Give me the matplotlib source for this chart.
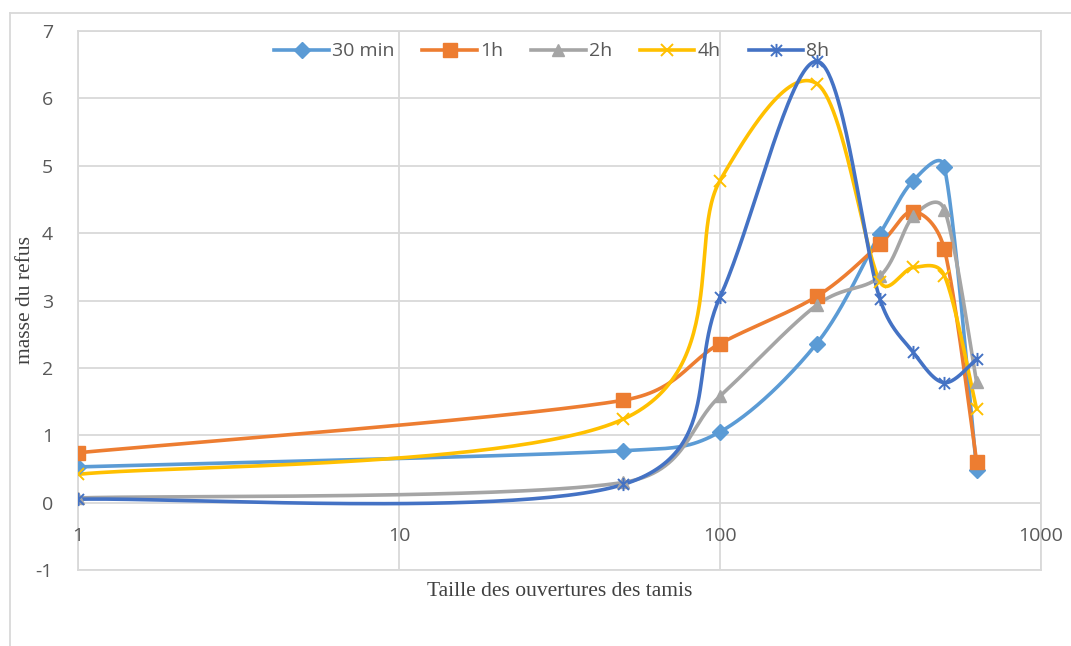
import numpy as np
import matplotlib
matplotlib.use("Agg")
import matplotlib.pyplot as plt
from matplotlib.path import Path
from matplotlib.lines import Line2D

# ---- data ----
sizes = [1, 50, 100, 200, 315, 400, 500, 630]
series_names = ["30 min", "1h", "2h", "4h", "8h"]
v_30min = [0.53, 0.77, 1.05, 2.36, 3.99, 4.78, 4.98, 0.49]
v_1h = [0.74, 1.52, 2.36, 3.06, 3.84, 4.32, 3.76, 0.61]
v_2h = [0.07, 0.30, 1.58, 2.93, 3.36, 4.25, 4.35, 1.79]
v_4h = [0.42, 1.24, 4.78, 6.22, 3.28, 3.49, 3.37, 1.39]
v_8h = [0.05, 0.27, 3.05, 6.55, 3.02, 2.23, 1.78, 2.13]
x_ticks = [1, 10, 100, 1000]
y_ticks = [-1, 0, 1, 2, 3, 4, 5, 6, 7]

colors = ["#5B9BD5", "#ED7D31", "#A5A5A5", "#FFC000", "#4472C4"]
star = Path([(-1, -1), (1, 1), (-1, 1), (1, -1), (0, -1.2), (0, 1.2)],
            [Path.MOVETO, Path.LINETO, Path.MOVETO, Path.LINETO, Path.MOVETO, Path.LINETO])
markers = ["D", "s", "^", "x", star]
msizes = [8, 10.5, 8.5, 9, 9.5]


def excel_smooth(ax, xs, ys, n=60):
    """Excel-like smoothed line computed in screen (display) coordinates."""
    P = ax.transData.transform(np.column_stack([np.asarray(xs, float), np.asarray(ys, float)]))
    m = len(P)
    out = []
    for i in range(m - 1):
        p0 = P[i]
        p3 = P[i + 1]
        prev = P[i - 1] if i > 0 else P[i]
        nxt = P[i + 2] if i + 2 < m else P[i + 1]
        seg = np.linalg.norm(p3 - p0)
        a1 = (p3 - prev) / 6.0
        a2 = (nxt - p0) / 6.0
        for a in (a1, a2):
            L = np.linalg.norm(a)
            if L > seg / 2 and L > 0:
                a *= (seg / 2) / L
        c1 = p0 + a1
        c2 = p3 - a2
        t = np.linspace(0, 1, n)[:, None]
        s = ((1 - t) ** 3) * p0 + 3 * ((1 - t) ** 2) * t * c1 + 3 * (1 - t) * t ** 2 * c2 + t ** 3 * p3
        if i > 0:
            s = s[1:]
        out.append(s)
    pts = ax.transData.inverted().transform(np.vstack(out))
    return pts[:, 0], pts[:, 1]


W, H = 1071, 646
fig = plt.figure(figsize=(W / 100, H / 100), dpi=100)
ax = fig.add_axes([78 / W, (H - 570) / H, (1041 - 78) / W, (570 - 31) / H])

ax.set_xscale("log")
ax.set_xlim(1, 1000)
ax.set_ylim(-1, 7)

grid_c = "#D9D9D9"
ax.set_yticks(y_ticks)
ax.set_xticks(x_ticks)
ax.xaxis.set_minor_locator(matplotlib.ticker.NullLocator())
ax.grid(True, color=grid_c, lw=1.3)
ax.set_axisbelow(True)
for s in ax.spines.values():
    s.set_color(grid_c)
    s.set_linewidth(1.3)
ax.tick_params(length=0)
ax.tick_params(axis="y", pad=18, labelsize=14, labelcolor="#595959")
ax.set_yticklabels([str(v) for v in y_ticks], fontfamily="Open Sans")
ax.set_xticklabels([])
for xv in x_ticks:
    ax.annotate(str(xv), xy=(xv, 0), xytext=(0, -33), textcoords="offset pixels",
                ha="center", va="center", fontsize=14, color="#595959",
                fontfamily="Open Sans", annotation_clip=False)

all_vals = [v_30min, v_1h, v_2h, v_4h, v_8h]
handles = []
for name, vals, c, mk, ms in zip(series_names, all_vals, colors, markers, msizes):
    sx, sy = excel_smooth(ax, sizes, vals)
    ax.plot(sx, sy, color=c, lw=2.6, solid_capstyle="round", zorder=3)
    mew = 1.4 if (isinstance(mk, str) and mk == "x") or mk is star else 1
    ax.plot(sizes, vals, linestyle="none", marker=mk, markersize=ms, color=c,
            markerfacecolor=c, markeredgecolor=c, markeredgewidth=mew, zorder=4)
    handles.append(Line2D([0], [0], color=c, lw=2.6, marker=mk, markersize=ms,
                          markerfacecolor=c, markeredgecolor=c, markeredgewidth=mew))

leg = ax.legend(handles, series_names, loc="center", bbox_to_anchor=(0.492, 0.962),
                ncol=5, frameon=False, handlelength=2.8, handletextpad=0.15,
                columnspacing=1.45, prop={"family": "Open Sans", "size": 14})
for t in leg.get_texts():
    t.set_color("#595959")

ax.set_xlabel("Taille des ouvertures des tamis", fontfamily="Liberation Serif",
              fontsize=15.5, color="#404040", labelpad=5)
ax.set_ylabel("masse du refus", fontfamily="Liberation Serif",
              fontsize=15.5, color="#404040")
ax.yaxis.set_label_coords((35 - 78) / (1041 - 78), 0.5)

# outer chart frame
fig.add_artist(Line2D([10 / W, 10 / W], [0, (H - 13) / H], color=grid_c, lw=1.3,
                      transform=fig.transFigure))
fig.add_artist(Line2D([10 / W, 1], [(H - 13) / H, (H - 13) / H], color=grid_c, lw=1.3,
                      transform=fig.transFigure))

fig.savefig("out.png", dpi=100)
